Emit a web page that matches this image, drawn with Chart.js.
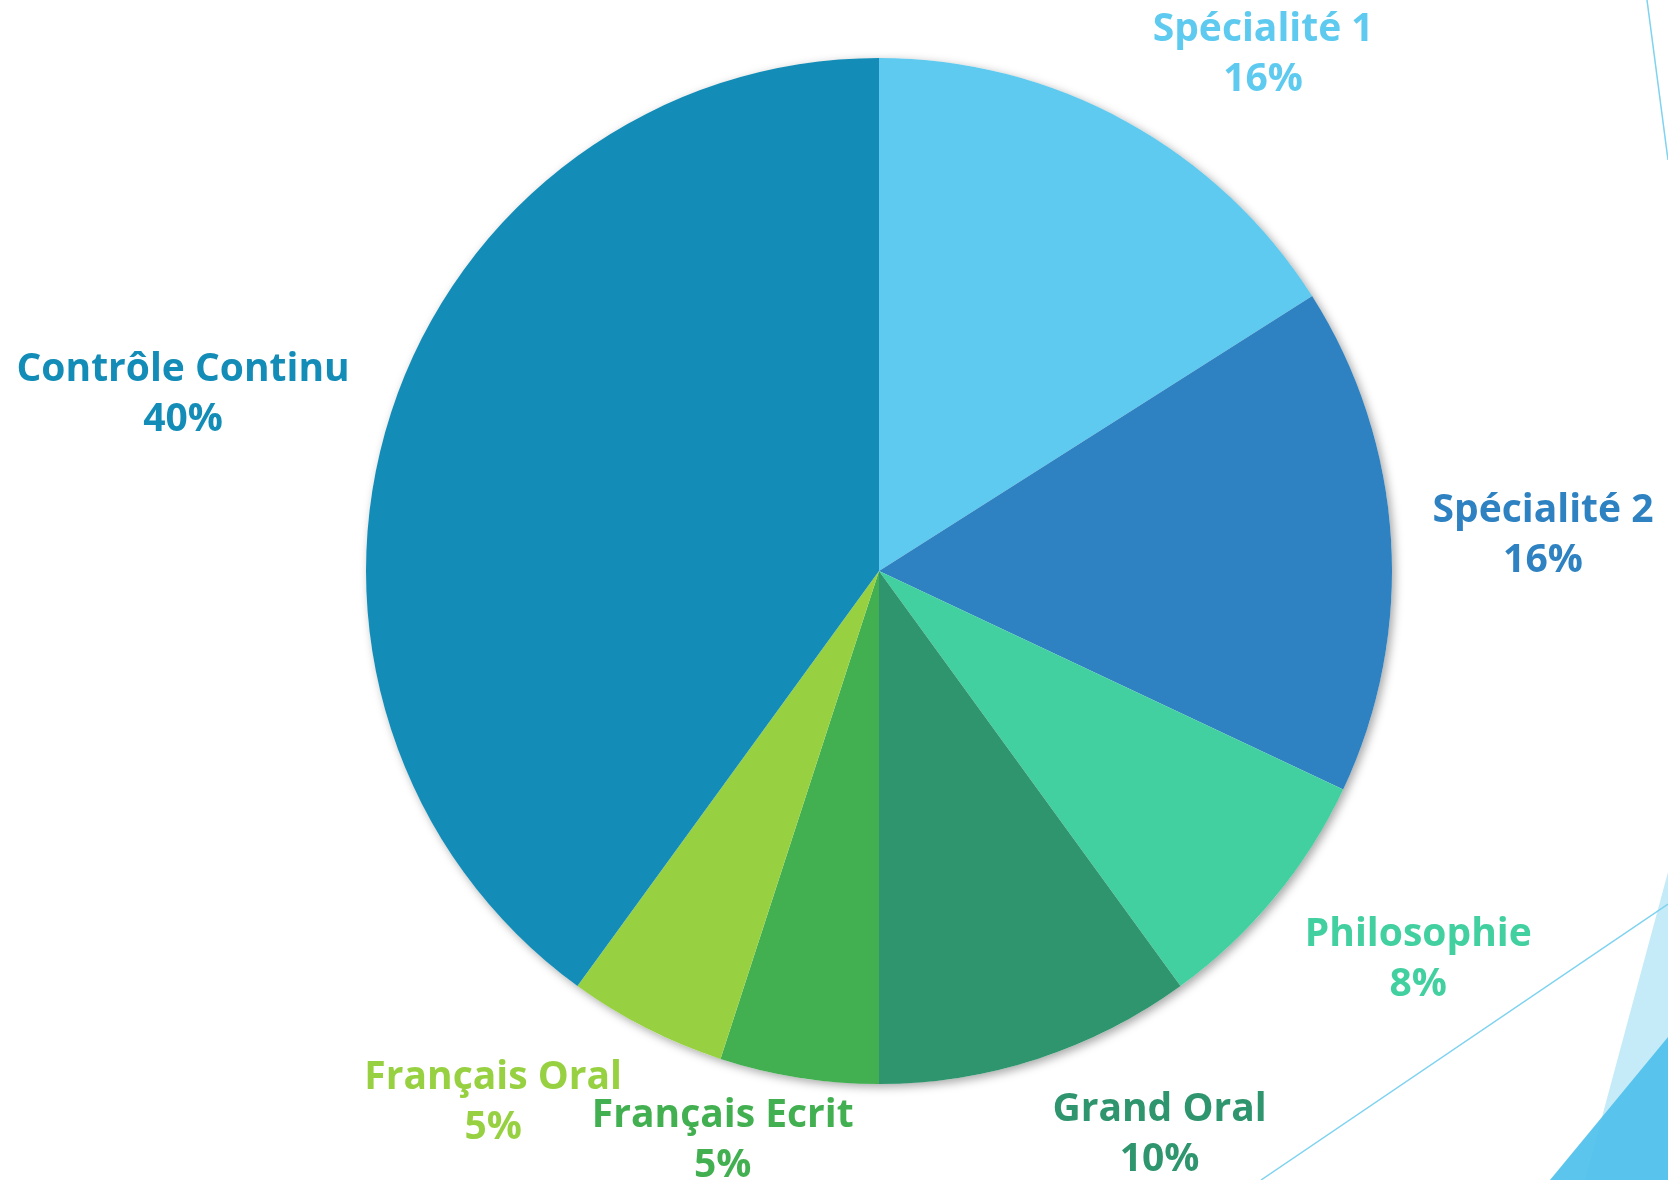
<!DOCTYPE html>
<html>
<head>
<meta charset="utf-8">
<script src="https://cdn.jsdelivr.net/npm/chart.js@4.4.0/dist/chart.umd.min.js"></script>
<style>
  html, body { margin: 0; padding: 0; background: #fff; }
  #wrap { width: 1668px; height: 1180px; position: relative; }
</style>
</head>
<body>
<div id="wrap"><canvas id="pieChart" width="1668" height="1180"></canvas></div>
<script>
// données du graphique
const categories = ['Spécialité 1', 'Spécialité 2', 'Philosophie', 'Grand Oral', 'Français Ecrit', 'Français Oral', 'Contrôle Continu'];
const shares = [16, 16, 8, 10, 5, 5, 40];
const pctLabels = ['16%', '16%', '8%', '10%', '5%', '5%', '40%'];
const colors = ['#5ECAEF', '#2E82C1', '#43D0A0', '#2E956E', '#42B051', '#97D142', '#138DB7'];
// décalage des étiquettes par rapport au bord du secteur (px)
const labelNudge = [[137, -70], [152, -6], [144, 59], [122, 73], [-76, 60], [-153, 72], [-208, -21]];

// décor de la diapo (lignes et triangles bleus à droite)
const slideDecor = {
  id: 'slideDecor',
  beforeDraw(chart) {
    const c = chart.ctx, W = chart.width, H = chart.height;
    c.save();
    c.fillStyle = '#C5EBF8';
    c.beginPath(); c.moveTo(W, 872); c.lineTo(1585, H); c.lineTo(W, H); c.closePath(); c.fill();
    c.fillStyle = 'rgba(78,192,235,0.92)';
    c.beginPath(); c.moveTo(W, 1037); c.lineTo(1550, H); c.lineTo(W, H); c.closePath(); c.fill();
    c.strokeStyle = '#7FD2F0'; c.lineWidth = 1.5;
    c.beginPath(); c.moveTo(1261, H); c.lineTo(W, 904); c.stroke();
    c.beginPath(); c.moveTo(1647, 0); c.lineTo(W, 160); c.stroke();
    c.restore();
  }
};

// ombre portée sous le camembert
const pieShadow = {
  id: 'pieShadow',
  beforeDatasetsDraw(chart) {
    const arc = chart.getDatasetMeta(0).data[0];
    if (!arc) return;
    const c = chart.ctx;
    c.save();
    c.shadowColor = 'rgba(0,0,0,0.35)';
    c.shadowBlur = 10;
    c.shadowOffsetX = 3;
    c.shadowOffsetY = 3;
    c.fillStyle = '#ffffff';
    c.beginPath(); c.arc(arc.x, arc.y, arc.outerRadius, 0, Math.PI * 2); c.fill();
    c.restore();
  }
};

// étiquettes extérieures : catégorie + pourcentage
const outerLabels = {
  id: 'outerLabels',
  afterDatasetsDraw(chart) {
    const c = chart.ctx;
    c.save();
    c.font = 'bold 39px "Open Sans", sans-serif';
    c.textAlign = 'center';
    c.textBaseline = 'middle';
    chart.getDatasetMeta(0).data.forEach((arc, i) => {
      const mid = (arc.startAngle + arc.endAngle) / 2;
      const x = arc.x + Math.cos(mid) * arc.outerRadius + labelNudge[i][0];
      const y = arc.y + Math.sin(mid) * arc.outerRadius + labelNudge[i][1];
      c.fillStyle = colors[i];
      c.fillText(categories[i], x, y - 22);
      c.fillText(pctLabels[i], x, y + 28);
    });
    c.restore();
  }
};

document.addEventListener('DOMContentLoaded', function() {
  const ctx = document.getElementById('pieChart').getContext('2d');
  new Chart(ctx, {
    type: 'pie',
    data: {
      labels: categories,
      datasets: [{
        data: shares,
        backgroundColor: colors,
        borderWidth: 0
      }]
    },
    options: {
      responsive: false,
      animation: false,
      layout: { padding: { top: 58, bottom: 96, left: 90, right: 0 } },
      plugins: {
        legend: { display: false },
        tooltip: { enabled: false }
      }
    },
    plugins: [slideDecor, pieShadow, outerLabels]
  });
});
</script>
</body>
</html>
